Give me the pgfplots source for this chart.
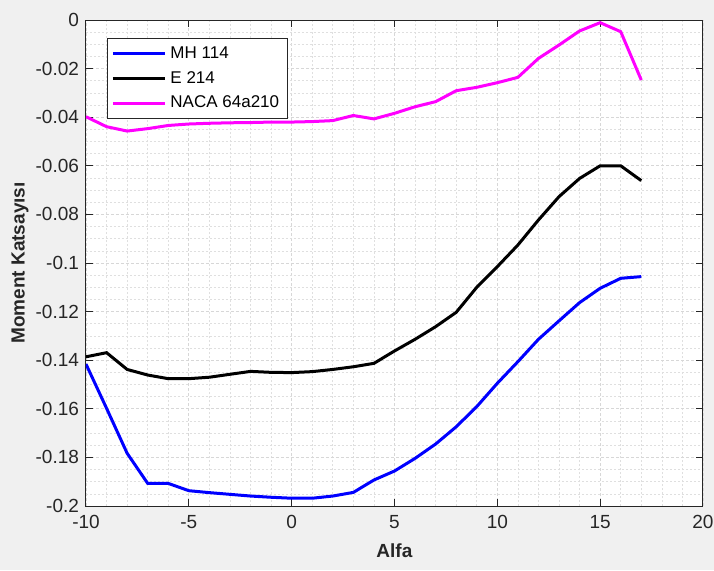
\documentclass[border=0pt]{standalone}
\usepackage{pgfplots}
\pgfplotsset{compat=1.18}
\usepackage{fontspec}
\setmainfont{Liberation Sans}
\definecolor{bggray}{RGB}{240,240,240}
\definecolor{axgray}{RGB}{38,38,38}
\definecolor{gridgray}{RGB}{215,215,215}
\definecolor{mag}{RGB}{255,0,255}
\definecolor{blu}{RGB}{0,0,255}
\begin{document}
\begin{tikzpicture}
\path[use as bounding box, fill=bggray] (-43pt,-32pt) rectangle (314pt,253pt);
\begin{axis}[
  scale only axis, width=308.5pt, height=243pt,
  anchor=south west, at={(0pt,0pt)},
  xmin=-10, xmax=20, ymin=-0.2, ymax=0,
  axis background/.style={fill=white},
  axis line style={axgray, line width=0.5pt},
  tick style={axgray, line width=0.5pt},
  major tick length=3.5pt, minor tick length=0pt,
  tick align=inside,
  xtick={-10,-5,0,5,10,15,20},
  xticklabels={-10,-5,0,5,10,15,20},
  ytick={-0.2,-0.18,-0.16,-0.14,-0.12,-0.1,-0.08,-0.06,-0.04,-0.02,0},
  yticklabels={-0.2,-0.18,-0.16,-0.14,-0.12,-0.1,-0.08,-0.06,-0.04,-0.02,0},
  minor x tick num=4, minor y tick num=3,
  grid=both,
  major grid style={gridgray, dash pattern=on 1.5pt off 1pt, line width=0.4pt},
  minor grid style={gridgray!80, dash pattern=on 1pt off 1pt, line width=0.3pt},
  ticklabel style={font=\fontsize{9.5}{11}\selectfont, text=axgray},
  xticklabel style={yshift=-1pt},
  xlabel={\textbf{Alfa}}, ylabel={\textbf{Moment Katsayısı}},
  label style={font=\fontsize{9.5}{11}\selectfont, text=axgray},
  xlabel style={at={(axis description cs:0.5,-0.092)}, anchor=center},
  ylabel style={at={(axis description cs:-0.107,0.5)}, anchor=center},
  legend style={at={(axis description cs:0.034,0.963)}, anchor=north west,
    font=\fontsize{8.5}{10}\selectfont, draw=axgray, line width=0.5pt,
    fill=white, inner xsep=2pt, inner ysep=2pt, row sep=1pt},
  legend cell align=left,
  legend image post style={line width=1.5pt},
  legend image code/.code={\draw[#1] (0pt,0pt) -- (26pt,0pt);},
]
\addplot[blu, line width=1.5pt] coordinates {
(-10,-0.1416) (-9,-0.1598) (-8,-0.1783) (-7,-0.1907) (-6,-0.1907) (-5,-0.1937)
(-4,-0.1945) (-3,-0.1952) (-2,-0.1959) (-1,-0.1964) (0,-0.1968) (1,-0.1968)
(2,-0.1959) (3,-0.1944) (4,-0.1893) (5,-0.1856) (6,-0.1804) (7,-0.1745)
(8,-0.1674) (9,-0.1591) (10,-0.1495) (11,-0.1406) (12,-0.1314) (13,-0.1238)
(14,-0.1163) (15,-0.1104) (16,-0.1063) (17,-0.1056)};
\addlegendentry{MH 114}
\addplot[black, line width=1.5pt] coordinates {
(-10,-0.1386) (-9,-0.1369) (-8,-0.1438) (-7,-0.1461) (-6,-0.1476) (-5,-0.1476)
(-4,-0.1470) (-3,-0.1458) (-2,-0.1446) (-1,-0.1450) (0,-0.1451) (1,-0.1447)
(2,-0.1438) (3,-0.1427) (4,-0.1413) (5,-0.1362) (6,-0.1314) (7,-0.1262)
(8,-0.1203) (9,-0.1100) (10,-0.1015) (11,-0.0926) (12,-0.0823) (13,-0.0727)
(14,-0.0652) (15,-0.0600) (16,-0.0600) (17,-0.0661)};
\addlegendentry{E 214}
\addplot[mag, line width=1.5pt] coordinates {
(-10,-0.0398) (-9,-0.0439) (-8,-0.0457) (-7,-0.0447) (-6,-0.0434) (-5,-0.0428)
(-4,-0.0425) (-3,-0.0423) (-2,-0.0422) (-1,-0.0420) (0,-0.0420) (1,-0.0418)
(2,-0.0414) (3,-0.0393) (4,-0.0407) (5,-0.0384) (6,-0.0357) (7,-0.0336)
(8,-0.0291) (9,-0.0277) (10,-0.0258) (11,-0.0236) (12,-0.0158) (13,-0.0103)
(14,-0.0045) (15,-0.0011) (16,-0.0048) (17,-0.0247)};
\addlegendentry{NACA 64a210}
\end{axis}
\end{tikzpicture}
\end{document}
